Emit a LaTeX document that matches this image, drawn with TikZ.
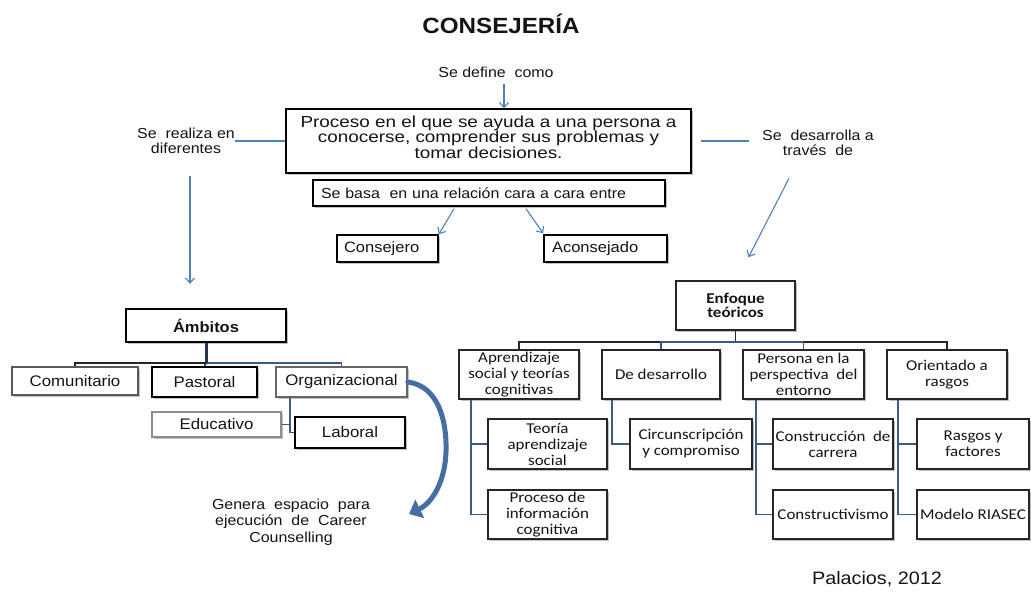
\documentclass[tikz,border=0pt]{standalone}
\usepackage{fontspec}
\setmainfont{Liberation Sans}[FakeStretch=1.1]
\newfontfamily\widefont{Liberation Sans}[FakeStretch=1.18]
\newfontfamily\calfont{Carlito}[FakeStretch=1.13]
\usetikzlibrary{arrows.meta,shadows,calc}
\definecolor{abl}{RGB}{79,129,189}
\definecolor{tbl}{RGB}{61,89,135}
\definecolor{cbl}{RGB}{70,110,165}
\definecolor{txt}{RGB}{20,20,20}
\newcommand\tightls{\lineskiplimit -10pt\relax}
\begin{document}
\begin{tikzpicture}[x=1pt,y=-1pt,
  every node/.style={text=txt},
  lbl/.style={font=\fontsize{14.5}{15.5}\selectfont\tightls, align=center, inner sep=0pt},
  shd/.style={drop shadow={shadow xshift=1.5pt, shadow yshift=-1.5pt, opacity=0.35, fill=black!70}},
  bx/.style={draw=black, line width=1.6pt, inner sep=0pt, align=center, fill=white, shd},
  lbox/.style={bx, font=\fontsize{15.3}{17}\selectfont},
  rbox/.style={draw=black!85, line width=1.5pt, inner sep=0pt, align=center, fill=white, shd,
     font=\calfont\fontsize{15}{16}\selectfont\tightls, minimum height=49pt},
  arr/.style={draw=abl, line width=1.1pt, -{Straight Barb[length=5pt,width=9pt]}},
  plain/.style={draw=abl, line width=1.1pt},
  tree/.style={draw=black!85, line width=1.6pt},
  treeb/.style={draw=tbl, line width=1.8pt},
  curv/.style={draw=cbl, line width=5pt, line cap=round, -{Triangle[length=12pt,width=20pt]}}
]
\useasboundingbox (0,0) rectangle (1031,592);
\fill[white] (0,0) rectangle (1031,592);

% title and top
\node[font=\bfseries\fontsize{22}{24}\selectfont, inner sep=0pt] (title) at (501,24) {CONSEJERÍA};
\node[lbl] (def) at (496,72) {Se define\ \ como};
\node[bx, minimum width=405pt, minimum height=64pt,
  font=\widefont\fontsize{16}{15.5}\selectfont\tightls] (main) at (488.5,141)
  {Proceso en el que se ayuda a una persona a\\conocerse, comprender sus problemas y\\tomar decisiones.\\[-7pt]\mbox{}};
\node[lbl] (real) at (186,141) {Se\ \ realiza en\\diferentes};
\node[lbl] (des) at (818,143) {Se\ \ desarrolla a\\través\ \ de};
\node[bx, minimum width=352pt, minimum height=26pt, text width=336pt, inner xsep=8pt, align=left,
  font=\fontsize{14.5}{15}\selectfont] (basa) at (489,193) {Se basa\ \ en una relación cara a cara entre};
\node[bx, minimum width=101pt, minimum height=27pt, text width=87pt, inner xsep=7pt, align=left,
  font=\fontsize{15}{16}\selectfont] (cons) at (387.5,248.5) {Consejero};
\node[bx, minimum width=123pt, minimum height=27pt, text width=107pt, inner xsep=8pt, align=left,
  font=\fontsize{15}{16}\selectfont] (acon) at (605.5,248.5) {Aconsejado};

% left tree
\node[bx, line width=2.4pt, minimum width=160pt, minimum height=33pt, font=\bfseries\fontsize{15}{16}\selectfont] (amb) at (206,325.5) {Ámbitos};
\node[lbox, draw=black!65, minimum width=126pt, minimum height=28pt] (com) at (75,381) {Comunitario};
\node[lbox, line width=2.4pt, minimum width=105pt, minimum height=30pt] (pas) at (204.5,382) {Pastoral};
\node[lbox, draw=black!60, minimum width=131pt, minimum height=30pt] (org) at (341.5,382) {Organizacional};
\node[lbox, draw=black!45, minimum width=129pt, minimum height=25pt] (edu) at (216.5,424.5) {Educativo};
\node[lbox, minimum width=110pt, minimum height=31pt] (lab) at (350,432.5) {Laboral};

% right tree
\node[rbox, minimum width=119pt, font=\calfont\bfseries\fontsize{15}{14}\selectfont\tightls] (enf) at (735.5,305.5) {Enfoque\\teóricos};
\node[rbox, minimum width=120pt] (apr) at (519,374.5) {Aprendizaje\\social y teorías\\cognitivas};
\node[rbox, minimum width=118pt] (dsr) at (661,374.5) {De desarrollo};
\node[rbox, minimum width=121pt] (per) at (803.5,374.5) {Persona en la\\perspectiva\ \ del\\entorno};
\node[rbox, minimum width=120pt] (ori) at (947,374.5) {Orientado a\\rasgos};
\node[rbox, minimum width=119pt, minimum height=50pt] (teo) at (547.5,444) {Teoría\\aprendizaje\\social};
\node[rbox, minimum width=119pt] (pro) at (547.5,514.5) {Proceso de\\información\\cognitiva};
\node[rbox, minimum width=122pt, minimum height=50pt] (cir) at (691,444) {Circunscripción\\y compromiso};
\node[rbox, minimum width=120pt, minimum height=50pt] (con) at (833,444) {Construcción\ \ de\\carrera};
\node[rbox, minimum width=120pt] (cvs) at (833,514.5) {Constructivismo};
\node[rbox, minimum width=112pt, minimum height=50pt] (ras) at (973,444) {Rasgos y\\factores};
\node[rbox, minimum width=112pt] (mod) at (973,514.5) {Modelo RIASEC};

% top connectors
\draw[arr] ([xshift=8pt,yshift=-6pt]def.south) -- ([xshift=15.5pt]main.north);
\draw[plain] (real.east) -- (main.west);
\draw[plain] ([xshift=9pt]main.east) -- ([xshift=-13pt]des.west |- main.east);
\draw[arr] ([xshift=-35pt,yshift=-2pt]basa.south) -- (cons.north east);
\draw[arr] ([xshift=37pt,yshift=-2pt]basa.south) -- ([yshift=1pt]acon.north west);
\draw[arr] ([xshift=4pt,yshift=-22pt]real.south) -- ([xshift=-16pt,yshift=24pt]amb.north);
\draw[arr] ([xshift=-29pt,yshift=-22pt]des.south) -- ([xshift=13pt,yshift=23pt]enf.north);

% left tree connectors
\coordinate (ab) at ($(amb.south)+(0,20)$);
\draw[tree] (ab) -| (com.north);
\draw[treeb] (ab) -| (org.north);
\draw[draw=black!85, line width=1.6pt] (ab) -- (pas.north);
\draw[draw=tbl!60!black, line width=3pt] (amb.south) -- (ab);
\draw[treeb] ([xshift=15pt]org.south west) |- (edu.east);
\draw[treeb] ([xshift=15pt]org.south west) |- (lab.west);

\draw[curv] (org.east) .. controls (438,386) and (447,420) .. (446,452) .. controls (445,482) and (432,503) .. (409,514);
\node[lbl, font=\fontsize{14.5}{16.5}\selectfont\tightls] (gen) at (291,522) {Genera\ \ espacio\ \ para\\ejecución\ \ de\ \ Career\\Counselling};

% right tree connectors
\coordinate (eb) at ($(enf.south)+(0,11)$);
\draw[tree] (enf.south) -- (eb);
\draw[tree] (eb) -| (apr.north);
\draw[tree] (eb) -| (ori.north);
\draw[treeb] (eb) -| (dsr.north);
\draw[treeb] (eb) -| (per.north);
\draw[treeb] ([xshift=13pt]apr.south west) |- (teo.west);
\draw[treeb] ([xshift=13pt]apr.south west) |- (pro.west);
\draw[treeb] ([xshift=11pt]dsr.south west) |- (cir.west);
\draw[treeb] ([xshift=14pt]per.south west) |- (con.west);
\draw[treeb] ([xshift=14pt]per.south west) |- (cvs.west);
\draw[treeb] ([xshift=12pt]ori.south west) |- (ras.west);
\draw[treeb] ([xshift=12pt]ori.south west) |- (mod.west);

\node[font=\fontsize{18}{19}\selectfont, inner sep=0pt] (pal) at (877,579) {Palacios, 2012};
\end{tikzpicture}
\end{document}
